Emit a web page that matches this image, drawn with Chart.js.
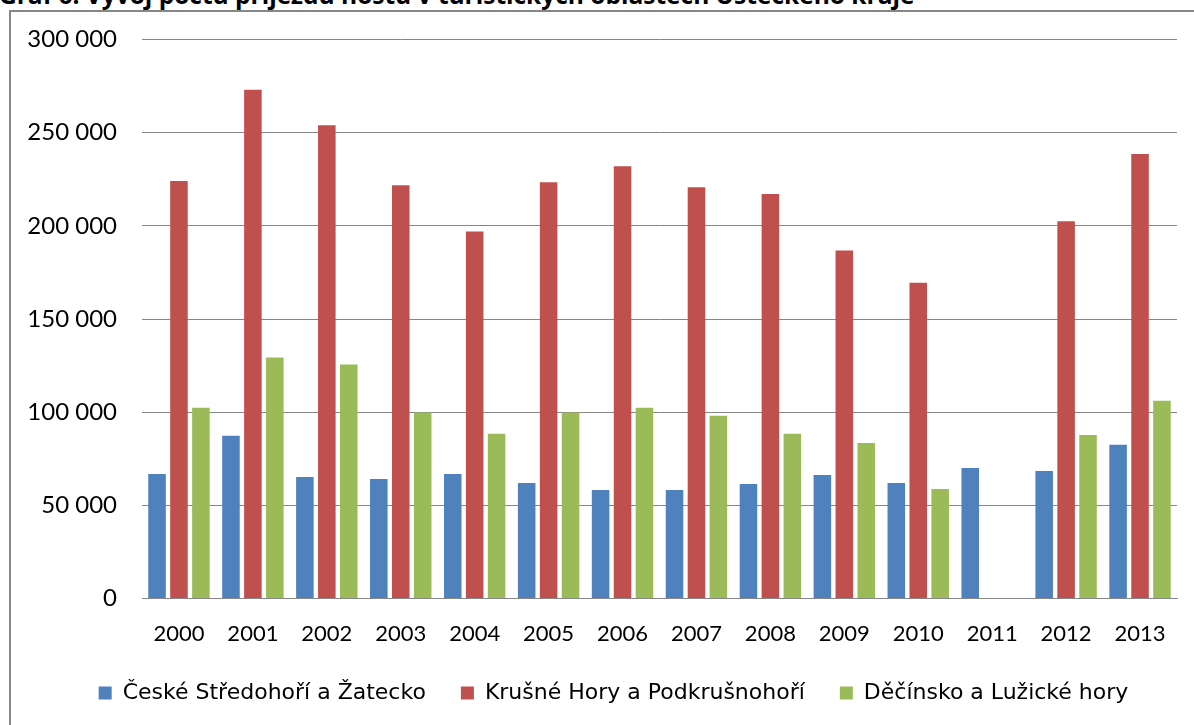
<!DOCTYPE html>
<html>
<head>
<meta charset="utf-8">
<script src="https://cdn.jsdelivr.net/npm/chart.js@4/dist/chart.umd.min.js"></script>
<style>
  html, body { margin: 0; padding: 0; background: #fff; overflow: hidden; }
  #wrap { position: relative; width: 1194px; height: 725px; }
  #titulek { position: absolute; left: -1px; top: -17px; font: bold 24.5px 'Open Sans', sans-serif; line-height: 24px; color: #000; white-space: nowrap; }
  #ramecek { position: absolute; left: 9px; top: 10px; width: 1300px; height: 800px; border-left: 2px solid #878787; border-top: 2px solid #878787; pointer-events: none; }
  canvas { position: absolute; left: 0; top: 0; }
</style>
</head>
<body>
<div id="wrap">
  <div id="titulek">Graf 6: Vývoj počtu příjezdů hostů v turistických oblastech Ústeckého kraje</div>
  <div id="ramecek"></div>
  <canvas id="myChart" width="1194" height="725"></canvas>
</div>
<script>
// roky a pocty prijezdu hostu podle turistickych oblasti
var roky = ['2000', '2001', '2002', '2003', '2004', '2005', '2006', '2007', '2008', '2009', '2010', '2011', '2012', '2013'];
var ceskeStredohori = [66900, 87300, 65200, 64200, 66900, 62000, 58200, 58200, 61500, 66300, 62000, 70100, 68500, 82500];
var krusneHory = [224000, 273000, 254000, 221800, 197000, 223400, 232000, 220700, 217000, 186700, 169400, null, 202400, 238500];
var decinsko = [102400, 129300, 125600, 99800, 88400, 99800, 102400, 98100, 88400, 83500, 58800, null, 87800, 106200];
var osaY = [0, 50000, 100000, 150000, 200000, 250000, 300000];

var pismo = 'Lato, sans-serif';

// legenda neni v originale uplne na stredu, posunout doprava
var posunLegendy = {
  id: 'posunLegendy',
  afterLayout: function (chart) {
    if (chart.legend) {
      chart.legend.left += 20;
      chart.legend.right += 20;
    }
  }
};

var ctx = document.getElementById('myChart');

new Chart(ctx, {
  type: 'bar',
  data: {
    labels: roky,
    datasets: [{
      label: 'České Středohoří a Žatecko',
      data: ceskeStredohori,
      backgroundColor: '#4F81BD'
    }, {
      label: 'Krušné Hory a Podkrušnohoří',
      data: krusneHory,
      backgroundColor: '#C0504D'
    }, {
      label: 'Děčínsko a Lužické hory',
      data: decinsko,
      backgroundColor: '#9BBB59'
    }]
  },
  plugins: [posunLegendy],
  options: {
    responsive: false,
    animation: false,
    devicePixelRatio: 1,
    categoryPercentage: 0.89,
    barPercentage: 0.8,
    layout: {
      padding: { left: 10, right: 17, top: 39, bottom: 11 }
    },
    plugins: {
      tooltip: { enabled: false },
      legend: {
        position: 'bottom',
        labels: {
          boxWidth: 13,
          boxHeight: 13,
          padding: 35,
          color: '#000',
          font: { family: 'DejaVu Sans, sans-serif', size: 22 }
        }
      }
    },
    scales: {
      x: {
        grid: { display: false },
        border: { display: true, color: '#868686', width: 1 },
        afterFit: function (scale) { scale.height -= 14; },
        ticks: {
          color: '#000',
          padding: 14,
          maxRotation: 0,
          autoSkip: false,
          font: { family: pismo, size: 22 }
        }
      },
      y: {
        min: 0,
        max: 300000,
        afterFit: function (scale) { scale.width = 132; },
        afterBuildTicks: function (scale) {
          scale.ticks = osaY.map(function (v) { return { value: v }; });
        },
        border: { display: false },
        grid: { color: '#868686', lineWidth: 1, drawTicks: false },
        ticks: {
          color: '#000',
          padding: 25,
          font: { family: pismo, size: 24 },
          callback: function (v) {
            return String(v).replace(/\B(?=(\d{3})+(?!\d))/g, ' ');
          }
        }
      }
    }
  }
});
</script>
</body>
</html>
